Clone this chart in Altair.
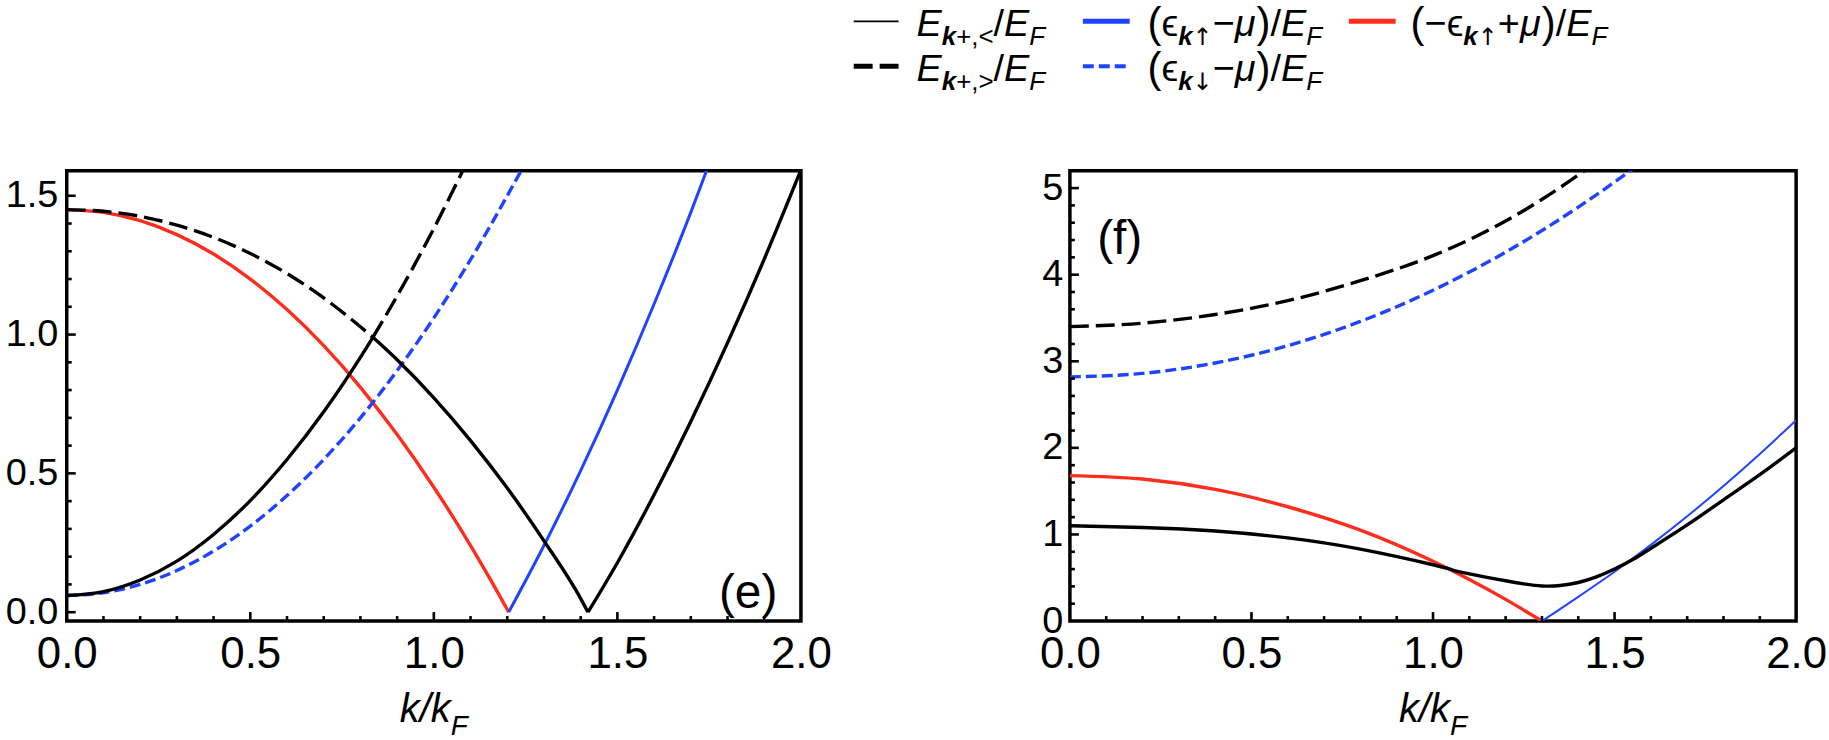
import altair as alt
import pandas as pd

# ---------------- data ----------------
# panel (e)
ke_red = [0, 0.1, 0.2, 0.3, 0.4, 0.5, 0.6, 0.7, 0.8, 0.9, 1.0, 1.1, 1.15, 1.204]
ve_red = [1.45, 1.44, 1.41, 1.36, 1.29, 1.20, 1.09, 0.96, 0.81, 0.64, 0.45, 0.24, 0.127, 0.0]

ke_blue = [1.204, 1.3, 1.4, 1.5, 1.6, 1.7, 1.76]
ve_blue = [0.0, 0.24, 0.51, 0.80, 1.11, 1.44, 1.65]

ke_bdash = [0, 0.1, 0.2, 0.3, 0.4, 0.5, 0.6, 0.7, 0.8, 0.9, 1.0, 1.1, 1.2, 1.25]
ve_bdash = [0.06, 0.07, 0.10, 0.15, 0.22, 0.31, 0.42, 0.55, 0.70, 0.87, 1.06, 1.27, 1.50, 1.62]

ke_lo_a = [0, 0.1, 0.2, 0.3, 0.4, 0.5, 0.6, 0.7, 0.8, 0.834]
ve_lo_a = [0.06, 0.074, 0.116, 0.184, 0.28, 0.402, 0.55, 0.722, 0.918, 0.99]
ke_lo_b = [0.834, 0.9, 1.0, 1.1, 1.2, 1.3, 1.4, 1.42]
ve_lo_b = [0.99, 0.909, 0.772, 0.618, 0.447, 0.257, 0.049, 0.0]
ke_lo_c = [1.42, 1.5, 1.6, 1.7, 1.8, 1.9, 2.0]
ve_lo_c = [0.0, 0.178, 0.423, 0.687, 0.970, 1.272, 1.593]

ke_hi_a = [0, 0.1, 0.2, 0.3, 0.4, 0.5, 0.6, 0.7, 0.8, 0.834]
ve_hi_a = [1.45, 1.444, 1.426, 1.394, 1.35, 1.292, 1.22, 1.132, 1.028, 0.99]
ke_hi_b = [0.834, 0.9, 1.0, 1.1]
ve_hi_b = [0.99, 1.139, 1.382, 1.648]

# panel (f)
kf_red = [0, 0.2, 0.4, 0.6, 0.8, 1.0, 1.1, 1.2, 1.30]
vf_red = [1.68, 1.64, 1.52, 1.32, 1.05, 0.69, 0.48, 0.25, 0.0]

kf_blue = [1.30, 1.4, 1.5, 1.6, 1.7, 1.8, 1.9, 2.0]
vf_blue = [0.0, 0.28, 0.57, 0.88, 1.21, 1.56, 1.93, 2.32]

kf_bdash = [0, 0.2, 0.4, 0.6, 0.8, 1.0, 1.2, 1.4, 1.56]
vf_bdash = [2.82, 2.86, 2.98, 3.18, 3.46, 3.82, 4.26, 4.78, 5.25]

kf_lo = [0, 0.2, 0.4, 0.6, 0.8, 1.0, 1.05, 1.1, 1.2, 1.25, 1.3, 1.35, 1.4, 1.45, 1.5,
         1.55, 1.6, 1.7, 1.8, 1.9, 2.0]
vf_lo = [1.10, 1.08, 1.04, 0.96, 0.83, 0.65, 0.595, 0.545, 0.465, 0.43, 0.405, 0.41, 0.445,
         0.51, 0.60, 0.71, 0.84, 1.11, 1.40, 1.69, 2.0]

kf_hi = [0, 0.2, 0.4, 0.6, 0.8, 1.0, 1.2, 1.4, 1.45]
vf_hi = [3.40, 3.44, 3.54, 3.70, 3.93, 4.22, 4.62, 5.15, 5.30]

# tick values
x_major = [0.0, 0.5, 1.0, 1.5, 2.0]
x_minor = [0.1, 0.2, 0.3, 0.4, 0.6, 0.7, 0.8, 0.9, 1.1, 1.2, 1.3, 1.4, 1.6, 1.7, 1.8, 1.9]
ye_major = [0.0, 0.5, 1.0, 1.5]
ye_minor = [0.1, 0.2, 0.3, 0.4, 0.6, 0.7, 0.8, 0.9, 1.1, 1.2, 1.3, 1.4]
yf_major = [0, 1, 2, 3, 4, 5]
yf_minor = [0.2, 0.4, 0.6, 0.8, 1.2, 1.4, 1.6, 1.8, 2.2, 2.4, 2.6, 2.8, 3.2, 3.4, 3.6,
            3.8, 4.2, 4.4, 4.6, 4.8]

# ---------------- style ----------------
FONT = "Liberation Sans, Arial, DejaVu Sans"
ARROW_FONT = "DejaVu Sans"
BLACK = "#000000"
BLUE = "#1f44ff"
RED = "#ff2d1e"

W_E, W_F, H = 737, 729, 452
LEFT_E = 65

xscale = alt.Scale(domain=[0, 2], nice=False, zero=False)
ye_scale = alt.Scale(domain=[-0.032, 1.59], nice=False, zero=False)
yf_scale = alt.Scale(domain=[0, 5.2], nice=False, zero=False)

xaxis = alt.Axis(values=x_major, format=".1f", labelFontSize=44, labelFont=FONT,
                 labelColor="black", ticks=False, domain=False, grid=False,
                 labelPadding=12, title=None, labelFlush=False, labelOverlap=False)
ye_axis = alt.Axis(values=ye_major, format=".1f", labelFontSize=38, labelFont=FONT,
                   labelColor="black", ticks=False, domain=False, grid=False,
                   labelPadding=9, title=None, labelFlush=False, labelOverlap=False)
yf_axis = alt.Axis(values=yf_major, format="d", labelFontSize=38, labelFont=FONT,
                   labelColor="black", ticks=False, domain=False, grid=False,
                   labelPadding=7, title=None, labelFlush=False, labelOverlap=False)


def series(parts):
    rows = []
    for i, (ks, vs) in enumerate(parts):
        for a, b in zip(ks, vs):
            rows.append({"k": a, "v": b, "seg": i})
    return pd.DataFrame(rows)


def line(parts, color, width, ysc, yax, dash=None, interp="monotone"):
    kw = dict(color=color, strokeWidth=width, clip=True, interpolate=interp)
    if dash:
        kw["strokeDash"] = dash
    return alt.Chart(series(parts)).mark_line(**kw).encode(
        x=alt.X("k:Q", scale=xscale, axis=xaxis),
        y=alt.Y("v:Q", scale=ysc, axis=yax),
        detail="seg:N",
    )


def yticks(vals, ysc, yax, length):
    return alt.Chart(pd.DataFrame({"v": vals})).mark_rule(color="black", strokeWidth=2.6).encode(
        y=alt.Y("v:Q", scale=ysc, axis=yax), x=alt.value(0), x2=alt.value(length))


def xticks(vals, length):
    return alt.Chart(pd.DataFrame({"k": vals})).mark_rule(color="black", strokeWidth=2.6).encode(
        x=alt.X("k:Q", scale=xscale, axis=xaxis), y=alt.value(H), y2=alt.value(H - length))


CW = {"E": 0.667, "F": 0.611, "k": 0.5, "+": 0.584, ",": 0.278, "<": 0.584, ">": 0.584,
      "/": 0.278, "(": 0.333, ")": 0.333, "−": 0.584, "μ": 0.576, "ϵ": 0.44, "↑": 0.84,
      "↓": 0.84}


def width(t, size, bold):
    return sum((0.556 if (bold and c == "k") else CW.get(c, 0.55)) for c in t) * size


dummy = pd.DataFrame({"a": [0]})


def compose(pieces, x0, y0):
    out = []
    x = x0
    for t, size, style, weight, dy in pieces:
        fnt = ARROW_FONT if t in ("↑", "↓") else FONT
        out.append(alt.Chart(dummy).mark_text(
            text=t, font=fnt, fontSize=size, fontStyle=style, fontWeight=weight,
            align="left", baseline="alphabetic", color="black").encode(
            x=alt.value(x), y=alt.value(y0 + dy)))
        x += width(t, size, weight == "bold")
    return out


def axis_title(cx, base):
    pieces = [("k/k", 40, "italic", "normal", 0), ("F", 28, "italic", "normal", 13)]
    tot = width("k/k", 40, False) + width("F", 28, False)
    return compose(pieces, cx - tot / 2, base)


# ---------------- panel (e) ----------------
panel_e = alt.layer(
    line([(ke_red, ve_red)], RED, 3.4, ye_scale, ye_axis),
    line([(ke_blue, ve_blue)], BLUE, 3.0, ye_scale, ye_axis),
    line([(ke_bdash, ve_bdash)], BLUE, 3.4, ye_scale, ye_axis, dash=[11, 5]),
    line([(ke_lo_a, ve_lo_a), (ke_lo_b, ve_lo_b), (ke_lo_c, ve_lo_c)], BLACK, 3.4, ye_scale, ye_axis),
    line([(ke_hi_a, ve_hi_a), (ke_hi_b, ve_hi_b)], BLACK, 3.4, ye_scale, ye_axis, dash=[19, 7]),
    yticks(ye_major, ye_scale, ye_axis, 9),
    yticks(ye_minor, ye_scale, ye_axis, 5),
    xticks(x_major[1:-1], 9),
    xticks(x_minor, 5),
    alt.Chart(dummy).mark_text(text="(e)", font=FONT, fontSize=48, align="center",
                               baseline="middle", color="black").encode(
        x=alt.value(684), y=alt.value(425)),
    *axis_title(W_E / 2, 553),
).properties(width=W_E, height=H, view=alt.ViewBackground(stroke="black", strokeWidth=3.5))

# ---------------- panel (f) ----------------
panel_f = alt.layer(
    line([(kf_red, vf_red)], RED, 3.4, yf_scale, yf_axis),
    line([(kf_blue, vf_blue)], BLUE, 2.0, yf_scale, yf_axis),
    line([(kf_bdash, vf_bdash)], BLUE, 3.4, yf_scale, yf_axis, dash=[11, 5]),
    line([(kf_lo, vf_lo)], BLACK, 3.4, yf_scale, yf_axis, interp="natural"),
    line([(kf_hi, vf_hi)], BLACK, 3.4, yf_scale, yf_axis, dash=[19, 7]),
    yticks(yf_major[1:], yf_scale, yf_axis, 9),
    yticks(yf_minor, yf_scale, yf_axis, 5),
    xticks(x_major[1:-1], 9),
    xticks(x_minor, 5),
    alt.Chart(dummy).mark_text(text="(f)", font=FONT, fontSize=48, align="center",
                               baseline="middle", color="black").encode(
        x=alt.value(50), y=alt.value(70)),
    *axis_title(W_F / 2, 553),
).properties(width=W_F, height=H, view=alt.ViewBackground(stroke="black", strokeWidth=3.5))

# ---------------- legend ----------------
M, S, A, P, DY = 38, 26, 24, 42, 9
lab1 = [("E", M, "italic", "normal", 0), ("k", S, "italic", "bold", DY),
        ("+,<", S, "normal", "normal", DY), ("/", M, "normal", "normal", 0),
        ("E", M, "italic", "normal", 0), ("F", S, "italic", "normal", DY)]
lab4 = [("E", M, "italic", "normal", 0), ("k", S, "italic", "bold", DY),
        ("+,>", S, "normal", "normal", DY), ("/", M, "normal", "normal", 0),
        ("E", M, "italic", "normal", 0), ("F", S, "italic", "normal", DY)]
lab2 = [("(", P, "normal", "normal", 1), ("ϵ", M, "normal", "normal", 0),
        ("k", S, "italic", "bold", DY), ("↑", A, "normal", "normal", DY),
        ("−", M, "normal", "normal", 0), ("μ", M, "italic", "normal", 0),
        (")", P, "normal", "normal", 1), ("/", M, "normal", "normal", 0),
        ("E", M, "italic", "normal", 0), ("F", S, "italic", "normal", DY)]
lab5 = [("(", P, "normal", "normal", 1), ("ϵ", M, "normal", "normal", 0),
        ("k", S, "italic", "bold", DY), ("↓", A, "normal", "normal", DY),
        ("−", M, "normal", "normal", 0), ("μ", M, "italic", "normal", 0),
        (")", P, "normal", "normal", 1), ("/", M, "normal", "normal", 0),
        ("E", M, "italic", "normal", 0), ("F", S, "italic", "normal", DY)]
lab3 = [("(", P, "normal", "normal", 1), ("−", M, "normal", "normal", 0),
        ("ϵ", M, "normal", "normal", 0), ("k", S, "italic", "bold", DY),
        ("↑", A, "normal", "normal", DY), ("+", M, "normal", "normal", 0),
        ("μ", M, "italic", "normal", 0), (")", P, "normal", "normal", 1),
        ("/", M, "normal", "normal", 0), ("E", M, "italic", "normal", 0),
        ("F", S, "italic", "normal", DY)]


def sample(x1, x2, y, color, w, dash=None):
    kw = dict(color=color, strokeWidth=w)
    if dash:
        kw["strokeDash"] = dash
    return alt.Chart(dummy).mark_rule(**kw).encode(
        x=alt.value(x1 - LEFT_E), x2=alt.value(x2 - LEFT_E), y=alt.value(y))


R1, R2 = 35, 80  # baselines
legend = alt.layer(
    sample(855, 900, 20, BLACK, 1.6),
    sample(1085, 1132, 20, BLUE, 5),
    sample(1352, 1399, 20, RED, 5),
    sample(855, 900, 65, BLACK, 5, dash=[19, 7]),
    sample(1085, 1130, 65, BLUE, 4, dash=[11, 5]),
    *compose(lab1, 918 - LEFT_E, R1),
    *compose(lab2, 1150 - LEFT_E, R1),
    *compose(lab3, 1414 - LEFT_E, R1),
    *compose(lab4, 918 - LEFT_E, R2),
    *compose(lab5, 1150 - LEFT_E, R2),
).properties(width=1700, height=100)

row = alt.hconcat(panel_e, panel_f, spacing=270, bounds="flush")
chart = alt.vconcat(legend, row, spacing=70, bounds="flush").properties(
    padding={"left": 3, "top": 0, "right": 0, "bottom": 0}
).configure_view(stroke=None)

chart.save("out.html", embed_options={"renderer": "svg", "actions": False})
